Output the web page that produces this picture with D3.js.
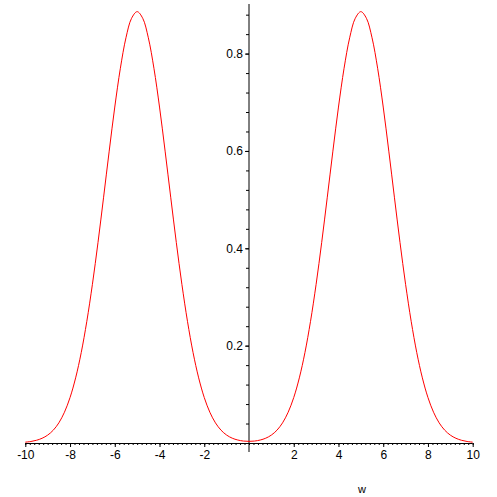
<!DOCTYPE html>
<html>
<head>
<meta charset="utf-8">
<script src="https://cdn.jsdelivr.net/npm/d3@7"></script>
<style>
  body { margin: 0; background: #fff; }
  svg { display: block; }
  .axis text { font-family: "Liberation Sans", Arial, sans-serif; font-size: 12px; fill: #000; }
  .axis line { stroke: #000; }
</style>
</head>
<body>
<div id="graph"></div>
<script>
// values, w from -10 to 10 in steps of 0.25
var wValues = [-10,-9.75,-9.5,-9.25,-9,-8.75,-8.5,-8.25,-8,-7.75,-7.5,-7.25,-7,-6.75,-6.5,-6.25,
               -6,-5.75,-5.5,-5.25,-5,-4.75,-4.5,-4.25,-4,-3.75,-3.5,-3.25,-3,-2.75,-2.5,-2.25,
               -2,-1.75,-1.5,-1.25,-1,-0.75,-0.5,-0.25,0,
               0.25,0.5,0.75,1,1.25,1.5,1.75,2,2.25,2.5,2.75,3,3.25,3.5,3.75,4,4.25,4.5,4.75,
               5,5.25,5.5,5.75,6,6.25,6.5,6.75,7,7.25,7.5,7.75,8,8.25,8.5,8.75,9,9.25,9.5,9.75,10];
var fValues = [0.0017,0.0031,0.0056,0.0097,0.0162,0.0263,0.0414,0.0632,0.0934,0.1338,0.1857,0.2500,
               0.3260,0.4121,0.5050,0.5996,0.6902,0.7699,0.8325,0.8725,0.8862,0.8725,0.8325,0.7699,
               0.6902,0.5996,0.5050,0.4121,0.3260,0.2500,0.1857,0.1338,0.0934,0.0632,0.0414,0.0263,
               0.0163,0.0099,0.0061,0.0040,0.0034,
               0.0040,0.0061,0.0099,0.0163,0.0263,0.0414,0.0632,0.0934,0.1338,0.1857,0.2500,0.3260,
               0.4121,0.5050,0.5996,0.6902,0.7699,0.8325,0.8725,0.8862,0.8725,0.8325,0.7699,0.6902,
               0.5996,0.5050,0.4121,0.3260,0.2500,0.1857,0.1338,0.0934,0.0632,0.0414,0.0263,0.0162,
               0.0097,0.0056,0.0031,0.0017];
var xTicks = [-10,-8,-6,-4,-2,2,4,6,8,10];
var yTicks = [0.2,0.4,0.6,0.8];
var xLabel = "w";

var width = 497, height = 497;

var data = wValues.map(function(w, i) { return {w: w, f: fValues[i]}; });

var chart = d3.select("#graph").append("svg")
    .attr("width", width)
    .attr("height", height);

var xScale = d3.scaleLinear().domain([-10, 10]).range([25.3, 472.7]);
var yScale = d3.scaleLinear().domain([0, 0.8]).range([443, 53.6]);

// minor ticks
var xMinor = d3.range(-10, 10.001, 0.2).map(function(d) { return Math.round(d * 10) / 10; });
var yMinor = d3.range(0.04, 0.9, 0.04).map(function(d) { return Math.round(d * 100) / 100; });

// x axis
chart.append("g")
    .attr("class", "axis")
    .attr("transform", "translate(0," + yScale(0) + ")")
    .call(d3.axisBottom(xScale).tickValues(xMinor).tickSize(2).tickSizeOuter(0).tickFormat(""))
    .call(function(g) { g.select(".domain").remove(); });

chart.append("g")
    .attr("class", "axis")
    .attr("transform", "translate(0," + yScale(0) + ")")
    .call(d3.axisBottom(xScale).tickValues(xTicks).tickSize(4).tickPadding(3)
      .tickFormat(function(d) { return String(d); }))
    .call(function(g) { g.select(".domain").remove(); });

chart.append("line")
    .attr("x1", xScale(-10)).attr("x2", xScale(10))
    .attr("y1", yScale(0) + 0.5).attr("y2", yScale(0) + 0.5)
    .attr("stroke", "#000");

// y axis
chart.append("g")
    .attr("class", "axis")
    .attr("transform", "translate(" + xScale(0) + ",0)")
    .call(d3.axisLeft(yScale).tickValues(yMinor).tickSize(3).tickFormat(""))
    .call(function(g) { g.select(".domain").remove(); });

chart.append("g")
    .attr("class", "axis")
    .attr("transform", "translate(" + xScale(0) + ",0)")
    .call(d3.axisLeft(yScale).tickValues(yTicks).tickSize(4).tickPadding(2)
      .tickFormat(function(d) { return String(d); }))
    .call(function(g) { g.select(".domain").remove(); });

chart.append("line")
    .attr("x1", xScale(0)).attr("x2", xScale(0))
    .attr("y1", 4).attr("y2", 452)
    .attr("stroke", "#000");

chart.append("text")
    .attr("x", 362)
    .attr("y", 493)
    .attr("text-anchor", "middle")
    .attr("font-family", "Liberation Sans, Arial, sans-serif")
    .attr("font-size", "11px")
    .text(xLabel);

// curve
var line = d3.line()
    .x(function(d) { return xScale(d.w); })
    .y(function(d) { return yScale(d.f); })
    .curve(d3.curveCatmullRom.alpha(0.5));

chart.append("path")
    .datum(data)
    .attr("d", line)
    .attr("fill", "none")
    .attr("stroke", "#ff0000")
    .attr("stroke-width", 1);
</script>
</body>
</html>
